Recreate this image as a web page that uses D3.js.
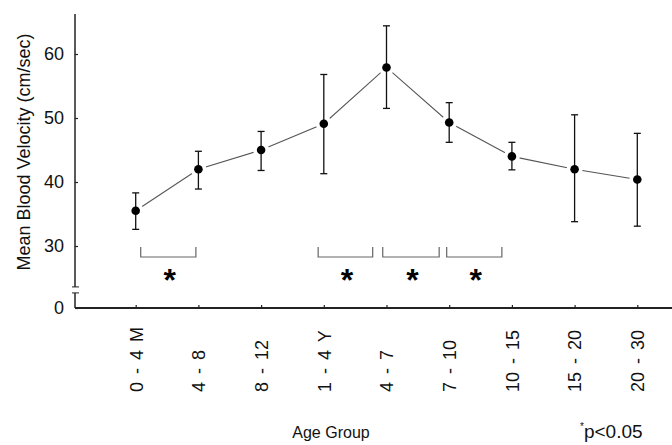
<!DOCTYPE html>
<html>
<head>
<meta charset="utf-8">
<script src="https://cdn.jsdelivr.net/npm/d3@7"></script>
<style>
  body { margin: 0; background: #fff; }
  svg { display: block; font-family: "Liberation Sans", Arial, Helvetica, sans-serif; }
</style>
</head>
<body>
<div class="viz"></div>
<script>
// age groups on the x axis
const categories = ['0 - 4 M', '4 - 8', '8 - 12', '1 - 4 Y', '4 - 7', '7 - 10', '10 - 15', '15 - 20', '20 - 30'];
// mean blood velocity (cm/sec) and error bar ends
const means = [35.5, 42.0, 45.0, 49.1, 57.9, 49.3, 44.0, 42.0, 40.4];
const upper = [38.3, 44.8, 47.9, 56.8, 64.4, 52.4, 46.2, 50.5, 47.6];
const lower = [32.6, 38.9, 41.8, 41.3, 51.5, 46.2, 41.9, 33.8, 33.1];
const yTicks = [0, 30, 40, 50, 60];
// significance brackets, in category-index units
const bracketFrom = [0.08, 2.91, 3.94, 4.96];
const bracketTo = [0.96, 3.78, 4.84, 5.84];
// y axis break (data units)
const yBreak = [7.3, 10.2];

const width = 672, height = 445;

const svg = d3.select('.viz')
  .append('svg')
  .attr('width', width)
  .attr('height', height);

// set the ranges
const x = d3.scalePoint().domain(categories).range([135.7, 637.3]);
const xi = i => x(categories[0]) + i * x.step();
// broken scale: 0-30 squeezed, 30-66 linear
const y = d3.scaleLinear().domain([0, 30, 66.25]).range([308, 246, 14]);

// y axis
const yAxis = svg.append('g')
  .attr('transform', 'translate(75,0)')
  .call(d3.axisLeft(y).tickValues(yTicks).tickSizeInner(-3).tickSizeOuter(0).tickPadding(11));
yAxis.select('.domain').remove();
yAxis.selectAll('line').attr('stroke', '#222').attr('stroke-width', 1.2);
yAxis.selectAll('text').attr('font-size', 18).attr('fill', '#111').attr('font-family', null);

const axisLine = svg.append('g').attr('stroke', '#222').attr('fill', 'none');
axisLine.append('line')
  .attr('x1', 75).attr('x2', 75)
  .attr('y1', y(66.25)).attr('y2', y(yBreak[1]))
  .attr('stroke-width', 1.5);
axisLine.append('line')
  .attr('x1', 75).attr('x2', 75)
  .attr('y1', y(yBreak[0])).attr('y2', y(0))
  .attr('stroke-width', 1.5);
yBreak.forEach(v => {
  axisLine.append('line')
    .attr('x1', 72).attr('x2', 79)
    .attr('y1', y(v)).attr('y2', y(v))
    .attr('stroke-width', 1);
});

// x axis
const xAxis = svg.append('g')
  .attr('transform', 'translate(0,' + y(0) + ')')
  .call(d3.axisBottom(x).tickSizeInner(-3).tickSizeOuter(0));
xAxis.select('.domain').remove();
xAxis.selectAll('line').attr('stroke', '#222').attr('stroke-width', 1.2);
xAxis.selectAll('text')
  .attr('font-family', null)
  .attr('font-size', 18)
  .attr('fill', '#111')
  .attr('transform', 'rotate(-90)')
  .attr('text-anchor', 'start')
  .attr('x', -84)
  .attr('y', 0)
  .attr('dy', '0.35em')
  .style('word-spacing', '3px');

axisLine.append('line')
  .attr('x1', 75).attr('x2', width)
  .attr('y1', y(0)).attr('y2', y(0))
  .attr('stroke-width', 2);

// connecting line
const line = d3.line()
  .x((d, i) => x(categories[i]))
  .y(d => y(d));

svg.append('path')
  .datum(means)
  .attr('fill', 'none')
  .attr('stroke', '#555')
  .attr('stroke-width', 1.1)
  .attr('d', line);

// white gap round the dots
svg.append('g')
  .selectAll('circle')
  .data(means)
  .join('circle')
  .attr('cx', (d, i) => x(categories[i]))
  .attr('cy', d => y(d))
  .attr('r', 8)
  .attr('fill', '#fff');

// error bars
const bars = svg.append('g')
  .attr('stroke', '#111')
  .attr('stroke-width', 1.3)
  .selectAll('g')
  .data(categories)
  .join('g');

bars.append('line')
  .attr('x1', d => x(d)).attr('x2', d => x(d))
  .attr('y1', (d, i) => y(upper[i]))
  .attr('y2', (d, i) => y(lower[i]));
bars.append('line')
  .attr('x1', d => x(d) - 3.5).attr('x2', d => x(d) + 3.5)
  .attr('y1', (d, i) => y(upper[i]))
  .attr('y2', (d, i) => y(upper[i]));
bars.append('line')
  .attr('x1', d => x(d) - 3.5).attr('x2', d => x(d) + 3.5)
  .attr('y1', (d, i) => y(lower[i]))
  .attr('y2', (d, i) => y(lower[i]));

svg.append('g')
  .selectAll('circle')
  .data(means)
  .join('circle')
  .attr('cx', (d, i) => x(categories[i]))
  .attr('cy', d => y(d))
  .attr('r', 4.3)
  .attr('fill', '#000');

// significance brackets
const brackets = svg.append('g')
  .selectAll('g')
  .data(bracketFrom)
  .join('g');

brackets.append('path')
  .attr('fill', 'none')
  .attr('stroke', '#666')
  .attr('stroke-width', 1.2)
  .attr('d', (d, i) => {
    const x0 = xi(d), x1 = xi(bracketTo[i]);
    return 'M' + x0 + ',247V257H' + x1 + 'V247';
  });

brackets.append('text')
  .attr('x', (d, i) => (xi(d) + xi(bracketTo[i])) / 2 + 1.5)
  .attr('y', 291)
  .attr('text-anchor', 'middle')
  .attr('font-size', 32)
  .attr('font-weight', 'bold')
  .attr('fill', '#000')
  .text('*');

// labels
svg.append('text')
  .attr('transform', 'translate(30,152) rotate(-90)')
  .attr('text-anchor', 'middle')
  .attr('font-size', 18)
  .attr('fill', '#111')
  .text('Mean Blood Velocity (cm/sec)');

svg.append('text')
  .attr('x', 331)
  .attr('y', 438)
  .attr('text-anchor', 'middle')
  .attr('font-size', 16)
  .attr('fill', '#111')
  .text('Age Group');

const note = svg.append('text')
  .attr('x', 580)
  .attr('y', 438)
  .attr('fill', '#111');
note.append('tspan')
  .attr('font-size', 10)
  .attr('dy', -8)
  .text('*');
note.append('tspan')
  .attr('font-size', 19)
  .attr('dy', 8)
  .text('p<0.05');
</script>
</body>
</html>
